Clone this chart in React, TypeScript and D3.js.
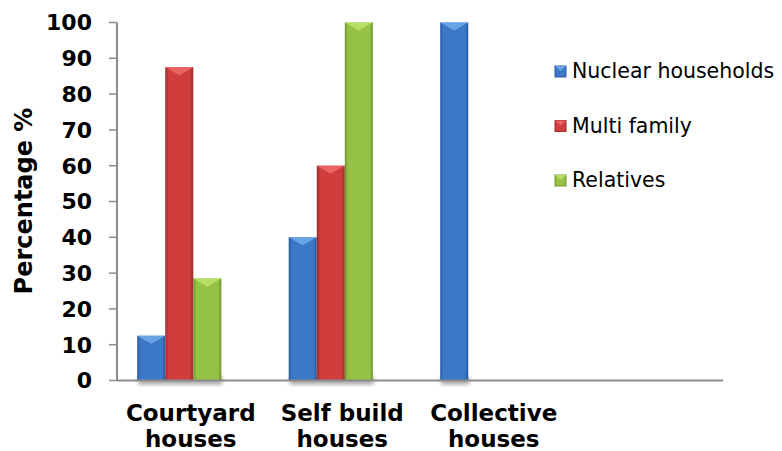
import React from "react"
import * as d3 from "d3"

const categories = ["Courtyard houses", "Self build houses", "Collective houses", ""]
const seriesNames = ["Nuclear households", "Multi family", "Relatives"]
const nuclear = [12.5, 40, 100, 0]
const multiFamily = [87.5, 60, 0, 0]
const relatives = [28.5, 100, 0, 0]
const yTicks = [0, 10, 20, 30, 40, 50, 60, 70, 80, 90, 100]

const seriesValues = [nuclear, multiFamily, relatives]
const colors = [
  { base: "#3b78c8", light: "#6aa3e6", dark: "#285a9e" },
  { base: "#cf3d3d", light: "#ea6464", dark: "#9e2a2a" },
  { base: "#95c244", light: "#b8de68", dark: "#6e9530" },
]

const App: React.FC = () => {
  const width = 782
  const height = 451
  const left = 117
  const right = 723
  const top = 22.5
  const bottom = 380.5

  const x0 = d3.scaleBand().domain(categories).range([left, right]).padding(0)
  const x1 = d3.scaleBand().domain(seriesNames).range([0, x0.bandwidth()])
    .paddingInner(0).paddingOuter(1.2).align(0.3)
  const y = d3.scaleLinear().domain([0, 100]).range([bottom, top])

  const font = "'DejaVu Sans', Verdana, sans-serif"

  return (
    <svg width={width} height={height} style={{ position: "absolute", left: 0, top: 0, background: "#fff" }}>
      <defs>
        {colors.map((c, i) => (
          <linearGradient key={i} id={`g${i}`} x1="0" x2="1" y1="0" y2="0">
            <stop offset="0" stopColor={c.dark} />
            <stop offset="0.12" stopColor={c.base} />
            <stop offset="0.5" stopColor={c.base} />
            <stop offset="0.88" stopColor={c.base} />
            <stop offset="1" stopColor={c.dark} />
          </linearGradient>
        ))}
        <filter id="shadow" x="-30%" y="-30%" width="160%" height="160%">
          <feGaussianBlur stdDeviation="2" />
        </filter>
      </defs>

      {/* y axis */}
      <line x1={left} x2={left} y1={top} y2={bottom} stroke="#8c8c8c" strokeWidth={2} />
      {yTicks.map(t => (
        <g key={t}>
          <line x1={left - 8} x2={left} y1={y(t)} y2={y(t)} stroke="#8c8c8c" strokeWidth={1.5} />
          <text x={92} y={y(t)} dy="0.36em" textAnchor="end" fontFamily={font} fontWeight="bold" fontSize={22} fill="#000">
            {t}
          </text>
        </g>
      ))}
      <text transform="translate(32,201) rotate(-90)" textAnchor="middle"
        fontFamily={font} fontWeight="bold" fontSize={24} fill="#000">Percentage %</text>

      {/* bar shadows */}
      {categories.map((cat, ci) => seriesNames.map((s, si) => {
        const v = seriesValues[si][ci]
        if (!v) return null
        const bx = x0(cat)! + x1(s)!
        return <rect key={`s${ci}-${si}`} x={bx + 1} y={bottom - 4} width={x1.bandwidth()} height={8}
          fill="#000" opacity={0.35} filter="url(#shadow)" />
      }))}

      {/* bars */}
      {categories.map((cat, ci) => seriesNames.map((s, si) => {
        const v = seriesValues[si][ci]
        if (!v) return null
        const bx = x0(cat)! + x1(s)!
        const bw = x1.bandwidth()
        const by = y(v)
        const c = colors[si]
        return (
          <g key={`b${ci}-${si}`}>
            <rect x={bx} y={by} width={bw} height={bottom - by} fill={`url(#g${si})`} />
            <polygon points={`${bx},${by} ${bx + bw},${by} ${bx + bw / 2},${by + 8}`} fill={c.light} />
          </g>
        )
      }))}

      {/* x axis */}
      <line x1={left} x2={right} y1={bottom} y2={bottom} stroke="#8c8c8c" strokeWidth={2} />
      {categories.slice(0, 3).map(cat => {
        const words = cat.split(" ")
        const line1 = words.slice(0, words.length - 1).join(" ")
        const line2 = words[words.length - 1]
        const cx = x0(cat)! + x0.bandwidth() / 2 - 2
        return (
          <text key={cat} x={cx} y={421} textAnchor="middle" fontFamily={font} fontWeight="bold" fontSize={23} fill="#000">
            <tspan x={cx}>{line1}</tspan>
            <tspan x={cx} dy={26}>{line2}</tspan>
          </text>
        )
      })}

      {/* legend */}
      {seriesNames.map((s, i) => {
        const ly = 78 + i * 54.5
        const c = colors[i]
        return (
          <g key={s}>
            <rect x={555} y={ly - 12} width={11} height={11} fill={c.base} stroke={c.dark} strokeWidth={1} />
            <polygon points={`${555},${ly - 12} ${566},${ly - 12} ${560.5},${ly - 7}`} fill={c.light} />
            <text x={572} y={ly} fontFamily={font} fontSize={20.5} fill="#000">{s}</text>
          </g>
        )
      })}
    </svg>
  )
}

export default App
